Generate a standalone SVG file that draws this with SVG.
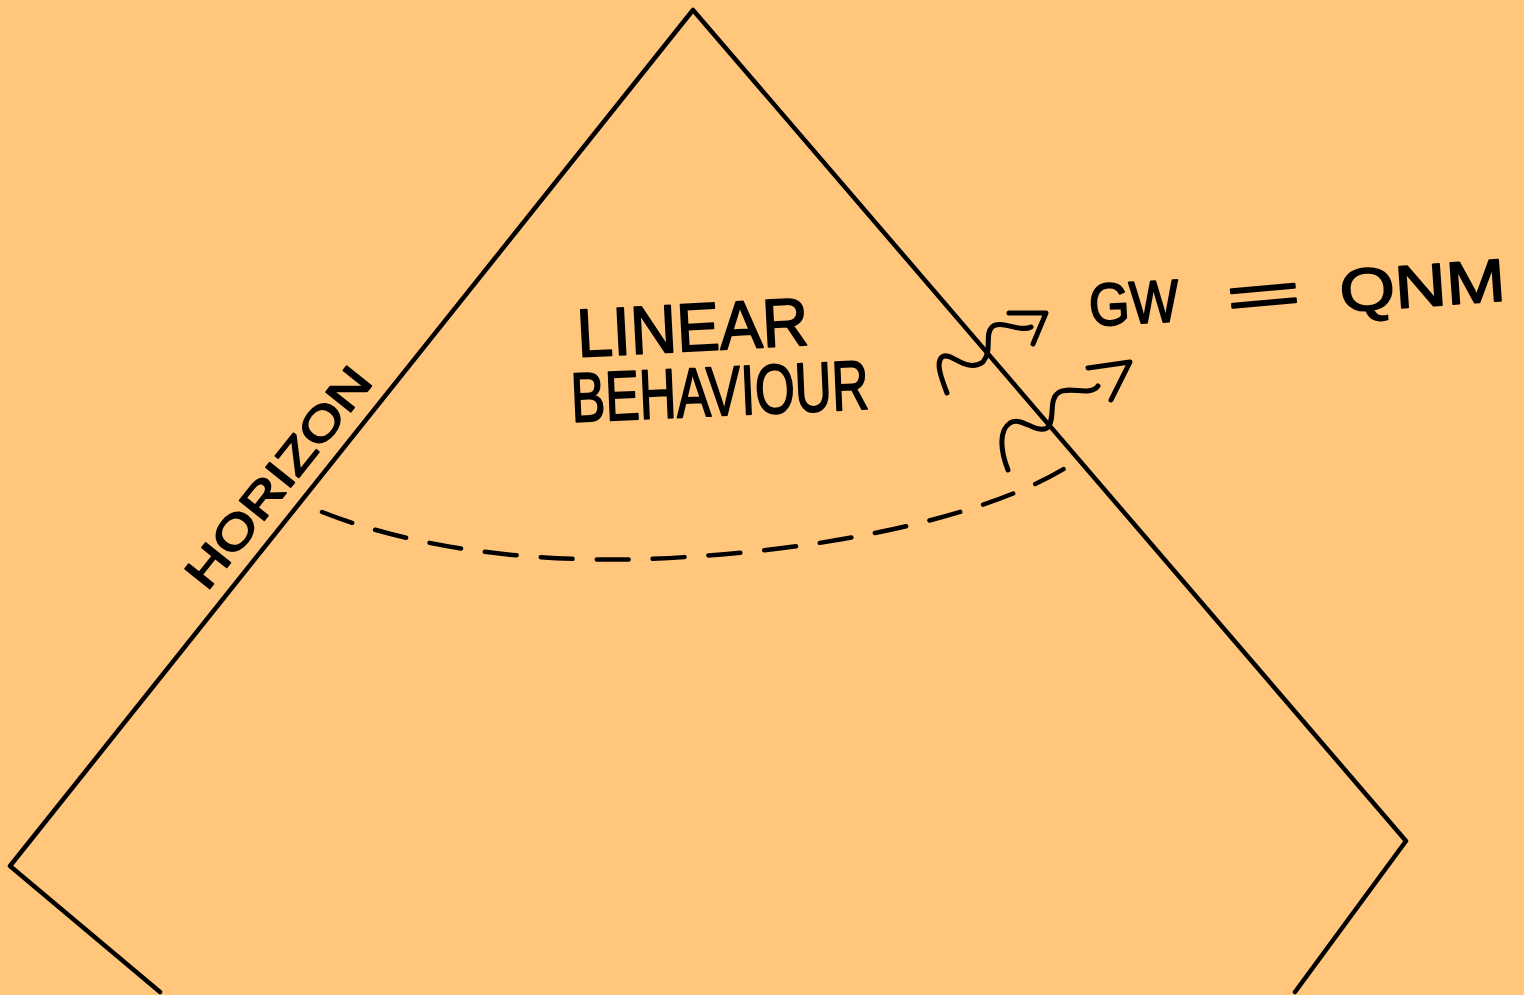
<svg xmlns="http://www.w3.org/2000/svg" width="1524" height="995" viewBox="0 0 1524 995">
<style>
.ln{fill:none;stroke:#000;stroke-width:4.5;stroke-linecap:round;stroke-linejoin:round}
.hw{fill:none;stroke:#000;stroke-width:5;stroke-linecap:round;stroke-linejoin:round}
.tx{font-family:"Liberation Sans","DejaVu Sans",sans-serif;fill:#000;stroke:#000;stroke-width:1.8;stroke-linejoin:round}
</style>
<rect width="1524" height="995" fill="#FFC67C"/>
<g id="diagram">
<path class="ln" d="M160,992 L10,866 L693,10 L1406,841 L1295,992"/>
</g>
<g id="connectors">
<path class="ln" stroke-dasharray="32,24" d="M322,512 C450,562 600,564 700,556 C850,546 1000,512 1075,462"/>
<path class="hw" d="M947,393 C940,375 936,362 942,357 C950,350 966,374 983,362 C993,350 984,335 992,327 C1000,319 1020,333 1031,327"/>
<path class="hw" d="M1009,313 L1046,313 L1033,344"/>
<path class="hw" d="M1008,470 C1000,450 999,430 1010,423 C1022,416 1035,434 1047,428 C1056,420 1048,400 1058,393 C1068,385 1090,397 1098,386"/>
<path class="hw" d="M1088,368 L1130,362 L1111,400"/>
</g>
<g id="horizon">
<text class="tx" font-size="46" transform="translate(207,592) rotate(-51.4)" textLength="268" lengthAdjust="spacingAndGlyphs">HORIZON</text>
</g>
<g id="linear">
<text class="tx" font-size="68" transform="translate(578,357) rotate(-3)" textLength="232" lengthAdjust="spacingAndGlyphs">LINEAR</text>
<text class="tx" font-size="70" transform="translate(572,422) rotate(-2.5)" textLength="298" lengthAdjust="spacingAndGlyphs">BEHAVIOUR</text>
</g>
<g id="equation">
<text class="tx" font-size="60" transform="translate(1090,326) rotate(-3)" textLength="90" lengthAdjust="spacingAndGlyphs">GW</text>
<text class="tx" font-size="58" transform="translate(1228,318) rotate(-5) scale(2.2,1)">=</text>
<text class="tx" font-size="60" transform="translate(1341,312) rotate(-4)" textLength="166" lengthAdjust="spacingAndGlyphs">QNM</text>
</g>
</svg>
